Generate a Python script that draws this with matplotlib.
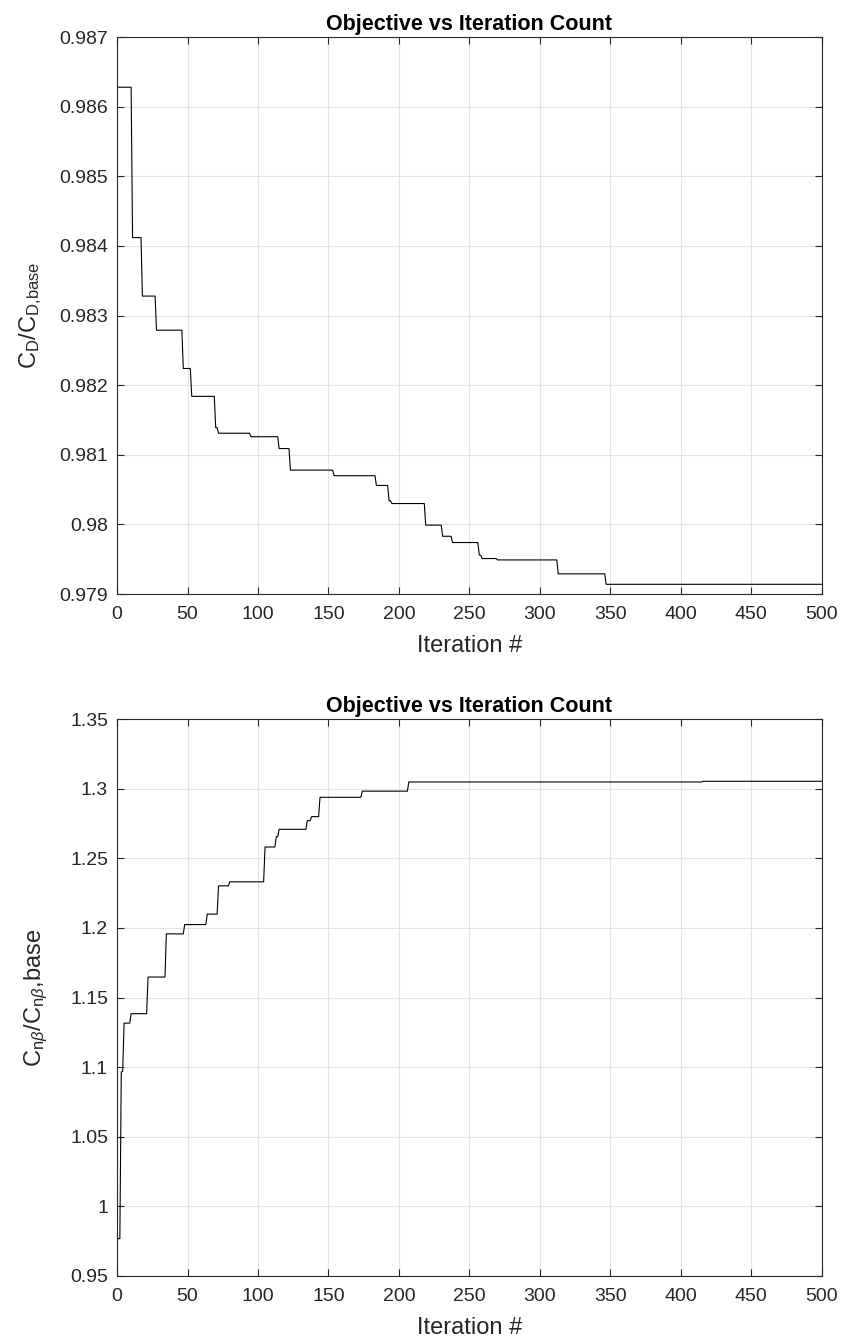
"""
Objective history plots: drag ratio and directional stability ratio vs iteration.
"""
import numpy as np
import matplotlib
matplotlib.use('Agg')
import matplotlib.pyplot as plt
from matplotlib.ticker import FuncFormatter

plt.rcParams['font.family'] = ['Liberation Sans', 'DejaVu Sans']
plt.rcParams['mathtext.fontset'] = 'custom'
plt.rcParams['mathtext.rm'] = 'Liberation Sans'
plt.rcParams['mathtext.it'] = 'Liberation Sans:italic'

# iteration at which the best objective changes, and the new best value
cd_iters = [0, 11, 18, 28, 47, 53, 70, 72, 95, 115, 123, 154, 184, 193, 195,
            219, 231, 238, 257, 259, 270, 313, 347]
cd_vals = [0.98628, 0.98412, 0.98328, 0.98279, 0.98224, 0.98184, 0.98139,
           0.98131, 0.98126, 0.98109, 0.98078, 0.98070, 0.98056, 0.98034,
           0.98030, 0.97999, 0.97983, 0.97974, 0.97956, 0.97951, 0.97949,
           0.97929, 0.97914]

cn_iters = [1, 3, 4, 5, 10, 22, 35, 48, 64, 72, 80, 105, 113, 115, 135, 138,
            144, 174, 207, 416]
cn_vals = [0.9768, 1.0964, 1.0970, 1.1316, 1.1384, 1.1647, 1.1957, 1.2024,
           1.2099, 1.2302, 1.2331, 1.2581, 1.2655, 1.2708, 1.2770, 1.2799,
           1.2938, 1.2982, 1.3048, 1.3053]

n_iter = 500


def history_line(iters, vals, last):
    """Per-iteration best value as a polyline (change spans one iteration)."""
    x, y = [iters[0]], [vals[0]]
    for k in range(1, len(iters)):
        x += [iters[k] - 1, iters[k]]
        y += [vals[k - 1], vals[k]]
    x.append(last)
    y.append(vals[-1])
    return np.array(x), np.array(y)


def style_axis(ax):
    ax.grid(True, color='#e3e3e3', linewidth=0.8)
    ax.set_axisbelow(True)
    ax.tick_params(direction='in', top=True, right=True, length=5,
                   width=0.8, labelsize=14, colors='#262626')
    ax.tick_params(axis='x', pad=8.5)
    ax.tick_params(axis='y', pad=6.5)
    for s in ax.spines.values():
        s.set_color('#262626')
        s.set_linewidth(0.8)
    ax.set_xlim(0, n_iter)
    ax.set_xticks(np.arange(0, 501, 50))
    ax.set_xlabel('Iteration #', fontsize=17, color='#262626')
    ax.xaxis.set_label_coords(0.5, -0.074)
    ax.set_title('Objective vs Iteration Count', fontsize=15.5,
                 fontweight='bold', pad=5)


fig = plt.figure(figsize=(8.42, 13.44), dpi=100)
ax1 = fig.add_axes([0.139, 0.558, 0.837, 0.4144])
ax2 = fig.add_axes([0.139, 0.0506, 0.837, 0.4144])

g = FuncFormatter(lambda v, p: ('%.3f' % v).rstrip('0').rstrip('.'))

x, y = history_line(cd_iters, cd_vals, n_iter)
ax1.plot(x, y, color='black', linewidth=0.8)
style_axis(ax1)
ax1.set_ylim(0.979, 0.987)
ax1.set_yticks(np.arange(0.979, 0.98701, 0.001))
ax1.yaxis.set_major_formatter(g)
ax1.set_ylabel(r'C$_\mathrm{D}$/C$_\mathrm{D{,}base}$', fontsize=17,
               color='#262626')
ax1.yaxis.set_label_coords(-0.103, 0.5)

x, y = history_line(cn_iters, cn_vals, n_iter)
ax2.plot(x, y, color='black', linewidth=0.8)
style_axis(ax2)
ax2.set_ylim(0.95, 1.35)
ax2.set_yticks(np.arange(0.95, 1.3501, 0.05))
ax2.yaxis.set_major_formatter(g)
ax2.set_ylabel(r'C$_{\mathrm{n}\beta}$/C$_{\mathrm{n}\beta}$,base',
               fontsize=17, color='#262626')
ax2.yaxis.set_label_coords(-0.095, 0.5)

fig.savefig('out.png', dpi=100)
